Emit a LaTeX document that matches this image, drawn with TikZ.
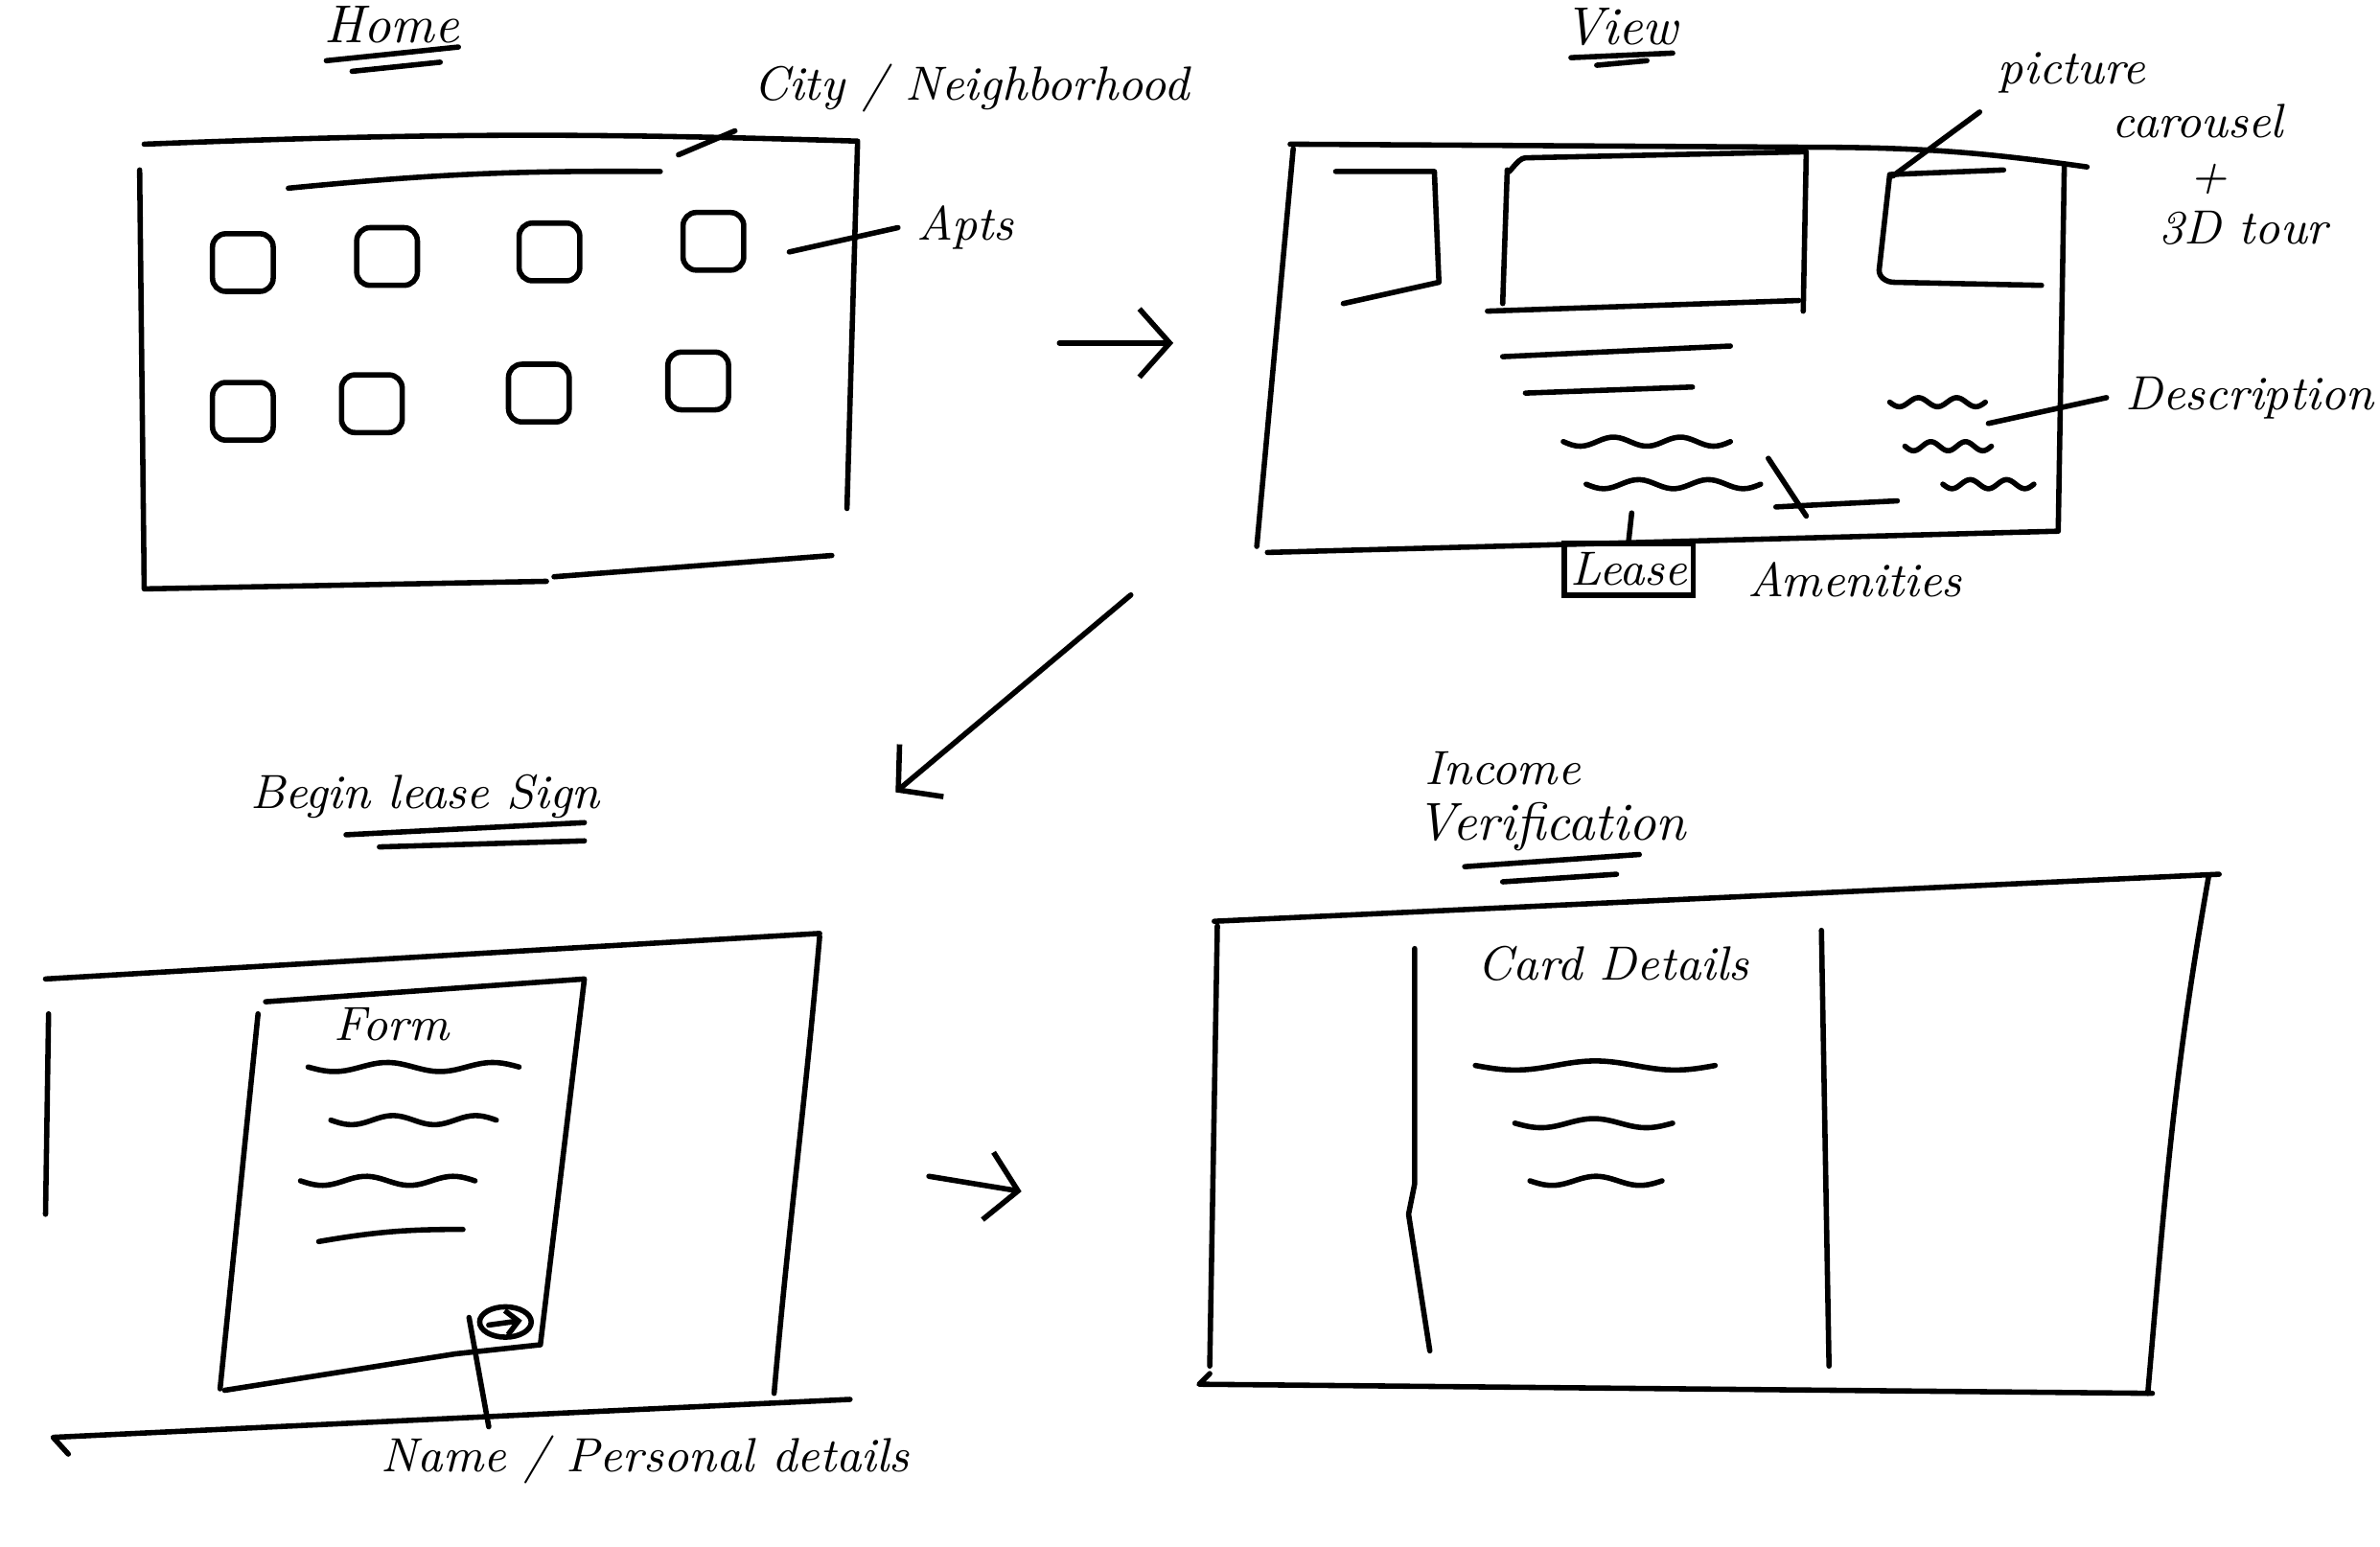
\documentclass[tikz,border=0pt]{standalone}
\usetikzlibrary{arrows.meta}
\tikzset{
  sketch/.style={line width=1pt, line cap=round, line join=round},
  note/.style={font=\small\itshape},
  heading/.style={font=\normalsize\itshape},
  >={Straight Barb[length=2mm,width=4.5mm]},
}
\begin{document}
\begin{tikzpicture}[x=0.1mm, y=-0.1mm]
  \useasboundingbox (0,0) rectangle (1568,1019);

  % Home screen
  \node[heading] (home) at (258,16) {Home};
  \draw[sketch] (215,40) -- (302,31);
  \draw[sketch] (232,47) -- (290,41);
  \draw[sketch] (95,95) to[bend left=2] (565,93) -- (558,335);
  \draw[sketch] (92,112) -- (95,388) -- (360,383);
  \draw[sketch] (365,380) -- (548,366);
  \draw[sketch] (190,124) to[bend left=3] (435,113);
  \node[note] (city) at (640,58) {City / Neighborhood};
  \coordinate (citybar) at (447,102);
  \draw[sketch] (city.south west) -- (citybar);
  % apartment tiles
  \foreach \x/\y in {160/172, 255/168, 362/165, 470/158, 160/270, 245/265, 355/258, 460/250} {
    \draw[sketch, rounded corners=2.5pt] (\x-20,\y-18) rectangle (\x+20,\y+20);
  }
  \node[note] (apts) at (636,150) {Apts};
  \coordinate (aptmark) at (520,166);
  \draw[sketch] (apts.west) -- (aptmark);

  \coordinate (a1) at (698,226);
  \coordinate (a2) at (773,226);
  \draw[sketch, ->] (a1) -- (a2);

  % View screen
  \node[heading] (view) at (1068,18) {View};
  \draw[sketch] (1035,38) -- (1102,35);
  \draw[sketch] (1052,43) -- (1085,40);
  \draw[sketch] (850,95) -- (1190,97) to[bend left=4] (1375,110);
  \draw[sketch] (852,98) -- (828,360);
  \draw[sketch] (835,364) -- (1355,350);
  \draw[sketch] (1360,110) -- (1356,350);
  % pictures
  \draw[sketch] (880,113) -- (945,113) -- (948,186) -- (885,200);
  \draw[sketch] (990,200) -- (993,112) to[out=-90,in=180] (1005,104) -- (1190,100) -- (1188,205);
  \draw[sketch] (980,205) -- (1185,198);
  \draw[sketch] (1320,112) -- (1245,115) -- (1238,178) to[out=-90,in=180] (1248,186) -- (1345,188);
  \node[note] (pic) at (1365,48) {picture};
  \node[note] (carousel) at (1448,80) {carousel};
  \node[note] (plus) at (1455,118) {+};
  \node[note] (tour) at (1478,150) {3D tour};
  \coordinate (picmark) at (1247,116);
  \draw[sketch] (pic.south west) -- (picmark);
  % text lines
  \draw[sketch] (990,235) -- (1140,228);
  \draw[sketch] (1005,259) -- (1115,255);
  \draw[sketch] (1170,334) -- (1250,330);
  \foreach \a/\b/\y in {1030/1140/291, 1045/1160/319, 1245/1308/265, 1255/1312/294, 1280/1340/319} {
    \draw[sketch] plot[domain=0:1, samples=40, variable=\t] ({\a+\t*(\b-\a)}, {\y+3*sin(\t*900)});
  }
  \node[note] (desc) at (1482,262) {Description};
  \coordinate (descmark) at (1310,279);
  \draw[sketch] (desc.west) -- (descmark);
  \node[note, draw, line width=1pt, minimum width=8.5mm, minimum height=3.4mm, inner sep=1pt] (lease) at (1073,375) {Lease};
  \coordinate (leasemark) at (1075,338);
  \draw[sketch] (lease.north) -- (leasemark);
  \node[note] (amen) at (1222,382) {Amenities};
  \coordinate (amenfoot) at (1190,340);
  \coordinate (amentop) at (1165,302);
  \draw[sketch] (amenfoot) -- (amentop);

  \coordinate (b1) at (745,392);
  \coordinate (b2) at (590,522);
  \draw[sketch, ->] (b1) -- (b2);

  % Begin lease sign screen
  \node[note] (sign) at (280,525) {Begin lease Sign};
  \draw[sketch] (228,550) -- (385,542);
  \draw[sketch] (250,558) -- (385,554);
  \draw[sketch] (30,645) -- (540,615);
  \draw[sketch] (32,668) -- (30,800);
  \draw[sketch] (45,958) -- (35,947) -- (560,922);
  \draw[sketch] (540,617) to[out=-95,in=85] (510,918);
  % form
  \draw[sketch] (175,660) -- (385,645) -- (356,886) -- (300,892) -- (148,916);
  \draw[sketch] (170,668) -- (145,915);
  \node[note] (form) at (258,675) {Form};
  \foreach \a/\b/\y in {203/342/703, 218/327/738, 198/313/778} {
    \draw[sketch] plot[domain=0:1, samples=40, variable=\t] ({\a+\t*(\b-\a)}, {\y+3*sin(\t*720)});
  }
  \draw[sketch] (210,818) to[bend left=5] (305,810);
  \draw[sketch] (333,871) ellipse [x radius=17, y radius=10];
  \draw[sketch, -{Straight Barb[length=0.8mm,width=1.6mm]}] (322,873) -- (344,870);
  \node[note] (name) at (425,962) {Name / Personal details};
  \coordinate (namefoot) at (322,940);
  \coordinate (nametop) at (309,868);
  \draw[sketch] (namefoot) -- (nametop);

  \coordinate (c1) at (612,775);
  \coordinate (c2) at (673,785);
  \draw[sketch, ->] (c1) -- (c2);

  % Income verification screen
  \node[note] (income) at (990,506) {Income};
  \node[heading] (verif) at (1022,545) {Verification};
  \draw[sketch] (965,571) -- (1080,563);
  \draw[sketch] (990,581) -- (1065,576);
  \draw[sketch] (800,607) -- (1462,576);
  \draw[sketch] (802,610) -- (797,900);
  \draw[sketch] (797,905) -- (790,912) -- (1418,918);
  \draw[sketch] (1455,578) to[out=-100,in=85] (1415,918);
  \draw[sketch] (932,625) -- (932,780) -- (928,800) -- (942,890);
  \draw[sketch] (1200,613) -- (1205,900);
  \node[note] (card) at (1063,635) {Card Details};
  \foreach \a/\b/\y in {972/1130/702, 998/1102/740, 1008/1095/778} {
    \draw[sketch] plot[domain=0:1, samples=40, variable=\t] ({\a+\t*(\b-\a)}, {\y+3*sin(\t*540)});
  }
\end{tikzpicture}
\end{document}
